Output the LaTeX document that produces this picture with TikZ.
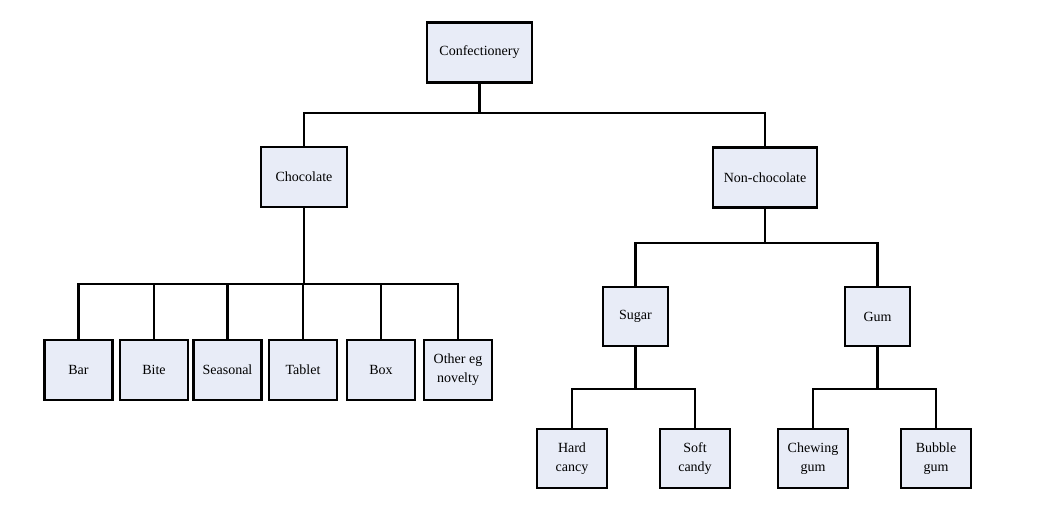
\documentclass[tikz,border=0pt]{standalone}
\usepackage{fontspec}
\setmainfont{Liberation Serif}
\usepackage{tikz}

\definecolor{boxfill}{HTML}{E8ECF7}
\tikzset{
  catbox/.style={draw,fill=boxfill,line width=2.7pt,minimum height=60,
    align=center,inner sep=2pt,font=\fontsize{14}{19}\selectfont},
  link/.style={line width=2.2pt}
}

\begin{document}
\begin{tikzpicture}[x=1pt,y=-1pt]
  \useasboundingbox (0,0) rectangle (1050,507);
  % top two levels
  \node[catbox,minimum width=105] (conf) at (479.5,52.5) {Confectionery};
  \node[catbox,minimum width=86] (choc) at (304,177) {Chocolate};
  \node[catbox,minimum width=104] (nonchoc) at (765,177.5) {Non-chocolate};
  \node[catbox,minimum width=65,minimum height=59] (sugar) at (635.5,316.5) {Sugar};
  \node[catbox,minimum width=65,minimum height=59] (gum) at (877.5,316.5) {Gum};
  % chocolate products
  \foreach \n/\x/\t in {bar/78.5/Bar, bite/154/Bite, seasonal/227.5/Seasonal,
      tablet/303/Tablet, box/381/Box, other/458/{Other eg\\novelty}} {
    \node[catbox,minimum width=68] (\n) at (\x,370) {\t};
  }
  % sugar and gum products
  \foreach \n/\x/\t in {hard/572/{Hard\\cancy}, soft/695/{Soft\\candy},
      chewing/813/{Chewing\\gum}, bubble/936/{Bubble\\gum}} {
    \node[catbox,minimum width=70,minimum height=59] (\n) at (\x,458.5) {\t};
  }
  \draw[link] (conf.south) -- ++(0,29.5) coordinate (confbar);
  \draw[link] (confbar) -| (choc.north);
  \draw[link] (confbar) -| (nonchoc.north);
  \draw[link] (choc.south) -- ++(0,76) coordinate (chocbar);
  \foreach \n in {bar,bite,seasonal,tablet,box,other}
    \draw[link] (chocbar) -| (\n.north);
  \draw[link] (nonchoc.south) -- ++(0,34.5) coordinate (nonbar);
  \draw[link] (nonbar) -| (sugar.north);
  \draw[link] (nonbar) -| (gum.north);
  \draw[link] (sugar.south) -- ++(0,42) coordinate (sugarbar);
  \draw[link] (sugarbar) -| (hard.north);
  \draw[link] (sugarbar) -| (soft.north);
  \draw[link] (gum.south) -- ++(0,42) coordinate (gumbar);
  \draw[link] (gumbar) -| (chewing.north);
  \draw[link] (gumbar) -| (bubble.north);
\end{tikzpicture}
\end{document}
